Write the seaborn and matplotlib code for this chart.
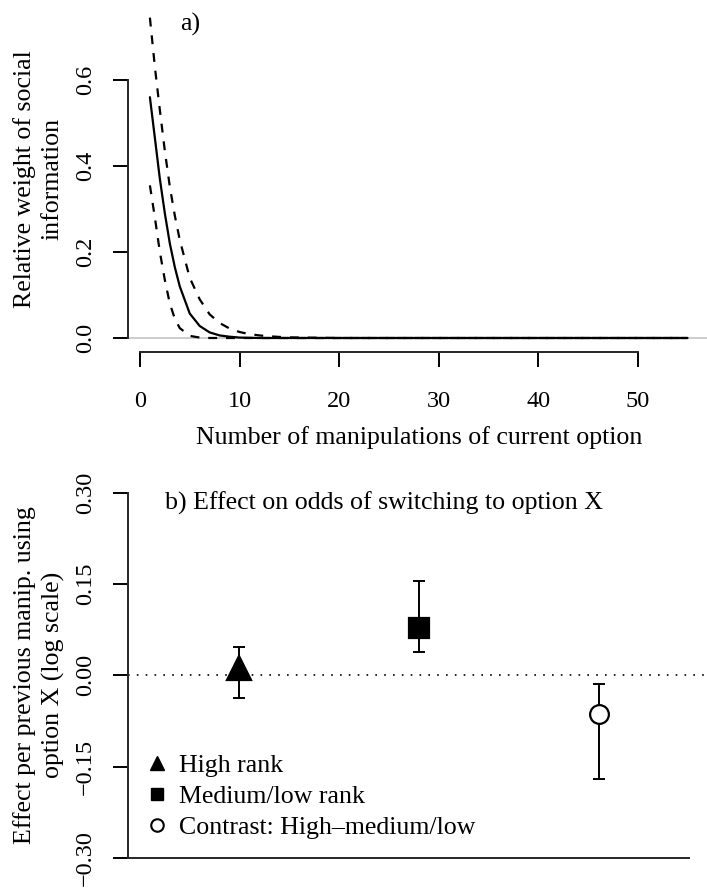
import matplotlib
matplotlib.use("Agg")
import matplotlib.pyplot as plt
from matplotlib.lines import Line2D
import numpy as np
import pandas as pd
import seaborn as sns

# ---------------- data ----------------
# panel a: relative weight of social information vs number of manipulations
manip_x = [1, 1.5, 2, 2.5, 3, 3.5, 4, 5, 6, 7, 8, 9, 10, 11, 12, 13, 14, 15, 20, 30, 40, 55]
weight_fit = [0.56, 0.465, 0.37, 0.29, 0.22, 0.165, 0.12, 0.057, 0.028, 0.013, 0.006, 0.003,
              0.001, 0.0005, 0, 0, 0, 0, 0, 0, 0, 0]
weight_upper = [0.745, 0.63, 0.53, 0.435, 0.352, 0.285, 0.228, 0.14, 0.09, 0.055, 0.035, 0.022,
                0.014, 0.009, 0.006, 0.004, 0.0025, 0.0015, 0, 0, 0, 0]
weight_lower = [0.355, 0.28, 0.2, 0.135, 0.08, 0.045, 0.023, 0.005, 0.001, 0, 0, 0,
                0, 0, 0, 0, 0, 0, 0, 0, 0, 0]
x_ticks_a = [0, 10, 20, 30, 40, 50]
y_ticks_a = [0.0, 0.2, 0.4, 0.6]

# panel b: effect per previous manipulation using option X (log scale)
groups = ["High rank", "Medium/low rank", "Contrast: High\u2013medium/low"]
effect = [0.012, 0.078, -0.064]
effect_lo = [-0.038, 0.039, -0.170]
effect_hi = [0.046, 0.155, -0.015]
y_ticks_b = [-0.30, -0.15, 0.00, 0.15, 0.30]
y_ticklabels_b = ["\u22120.30", "\u22120.15", "0.00", "0.15", "0.30"]

# ---------------- style ----------------
sns.set_theme(style="white")
plt.rcParams["font.family"] = ["Liberation Serif", "DejaVu Serif"]
plt.rcParams["axes.linewidth"] = 1.4
plt.rcParams["text.color"] = "black"
plt.rcParams["axes.labelcolor"] = "black"
plt.rcParams["xtick.color"] = "black"
plt.rcParams["ytick.color"] = "black"

W, H = 707, 888
fig = plt.figure(figsize=(W / 100, H / 100), dpi=100)

TXT = 18.6
TCK = 17.5


def px_axes(left, right, top, bottom):
    return [left / W, 1 - bottom / H, (right - left) / W, (bottom - top) / H]


# ---------------- panel a ----------------
ax1 = fig.add_axes(px_axes(128.4, 709.0, 6.9, 350.9))
df_a = pd.concat([
    pd.DataFrame({"x": manip_x, "y": weight_fit, "curve": "fit"}),
    pd.DataFrame({"x": manip_x, "y": weight_upper, "curve": "upper"}),
    pd.DataFrame({"x": manip_x, "y": weight_lower, "curve": "lower"}),
])
ax1.axhline(0, color="#c8c8c8", lw=1.3, zorder=1)
sns.lineplot(data=df_a, x="x", y="y", style="curve", units="curve", estimator=None,
             dashes={"fit": "", "upper": (4, 4), "lower": (4, 4)},
             color="black", lw=1.6, legend=False, ax=ax1, zorder=3)
ax1.set_xlim(-1.16, 57.16)
ax1.set_ylim(-0.03, 0.77)
ax1.set_xticks(x_ticks_a)
ax1.set_xticklabels([str(v) for v in x_ticks_a])
ax1.set_yticks(y_ticks_a)
ax1.set_yticklabels([f"{v:.1f}" for v in y_ticks_a])
for s in ["top", "right"]:
    ax1.spines[s].set_visible(False)
ax1.spines["left"].set_bounds(0, 0.6)
ax1.spines["bottom"].set_bounds(0, 50)
ax1.spines["bottom"].set_position(("outward", 1))
ax1.tick_params(axis="both", direction="out", length=11, width=1.4, labelsize=TCK,
                left=True, bottom=True)
ax1.tick_params(axis="x", pad=17)
ax1.tick_params(axis="y", pad=12, labelrotation=90)
for lab in ax1.get_yticklabels():
    lab.set_va("center")
ax1.set_xlabel("Number of manipulations of current option", fontsize=TXT, va="center")
ax1.xaxis.set_label_coords(0.5, (351 - 438) / 344)
ax1.set_ylabel("Relative weight of social\ninformation", fontsize=TXT, va="center",
               linespacing=1.3)
ax1.yaxis.set_label_coords((38 - 128.4) / 580.6, 0.5)
ax1.text((190 - 128.4) / 580.6, (351 - 25) / 344, "a)", transform=ax1.transAxes,
         fontsize=TXT, ha="center", va="center")

# ---------------- panel b ----------------
ax2 = fig.add_axes(px_axes(128.0, 710.1, 492.7, 858.0))
pos = [1, 2, 3]
markers = ["^", "s", "o"]
msizes = [17, 14.5, 13.5]
faces = ["black", "black", "white"]
for xi, m, lo, hi, mk, ms, fc in zip(pos, effect, effect_lo, effect_hi, markers, msizes, faces):
    ax2.errorbar([xi], [m], yerr=[[m - lo], [hi - m]], fmt="none", ecolor="black",
                 elinewidth=1.4, capsize=4, capthick=1.4, zorder=2)
    ax2.plot([xi], [m], marker=mk, ms=ms, mfc=fc, mec="black", mew=1.6, ls="none", zorder=3)
ax2.axhline(0, color="black", lw=1.2, ls=(0, (1, 4.3)), zorder=1)
ax2.set_xlim(0.38, 3.62)
ax2.set_ylim(-0.30, 0.30)
ax2.set_xticks([])
ax2.set_yticks(y_ticks_b)
ax2.set_yticklabels(y_ticklabels_b)
for s in ["top", "right"]:
    ax2.spines[s].set_visible(False)
ax2.spines["bottom"].set_bounds(0.38, 3.5)
ax2.tick_params(axis="y", direction="out", length=11, width=1.4, labelsize=TCK, left=True,
                pad=12, labelrotation=90)
for lab in ax2.get_yticklabels():
    lab.set_va("center")
ax2.set_ylabel("Effect per previous manip. using\noption X (log scale)", fontsize=TXT,
               va="center", linespacing=1.3)
ax2.yaxis.set_label_coords((39 - 128) / 582.1, 0.5)
ax2.text((165 - 128) / 582.1, (858 - 503) / 365.3, "b) Effect on odds of switching to option X",
         transform=ax2.transAxes, fontsize=TXT, ha="left", va="center")

handles = [
    Line2D([], [], marker="^", color="black", ls="none", ms=10),
    Line2D([], [], marker="s", color="black", ls="none", ms=9),
    Line2D([], [], marker="o", mfc="white", mec="black", mew=1.5, ls="none", ms=9),
]
ax2.legend(handles, groups, loc="upper left", bbox_to_anchor=((144 - 128) / 582.1, (858 - 754) / 365.3),
           frameon=False, fontsize=TXT, handlelength=1.0, handletextpad=0.35,
           labelspacing=0.3, borderpad=0, borderaxespad=0)

fig.savefig("out.png", dpi=100)
